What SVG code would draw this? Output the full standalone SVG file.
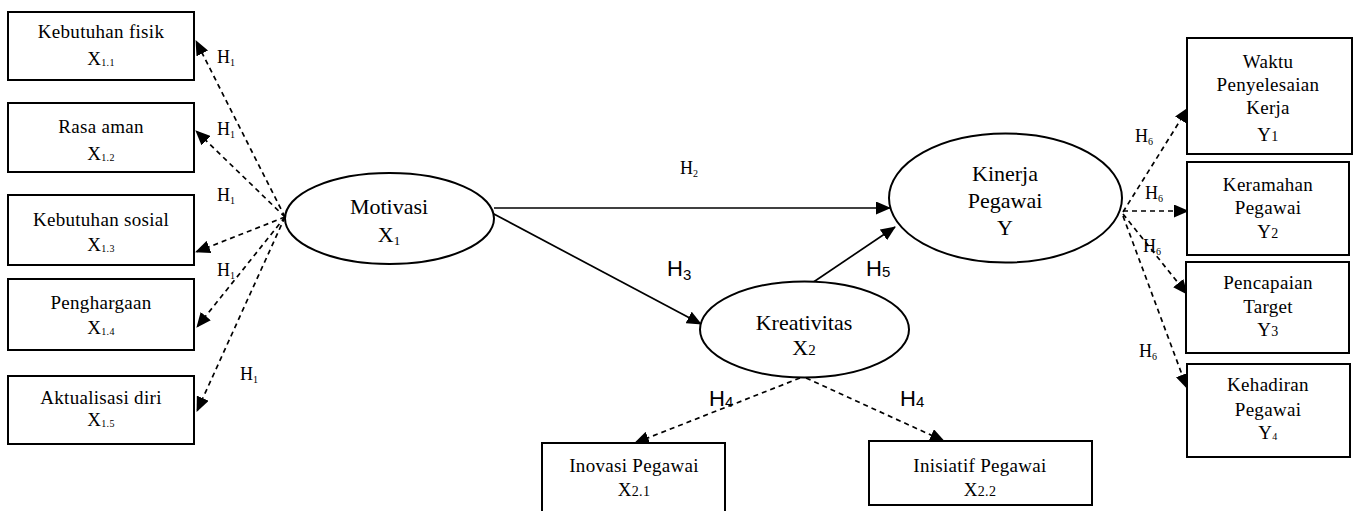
<svg xmlns="http://www.w3.org/2000/svg" width="1359" height="511" viewBox="0 0 1359 511">
  <style>
    .box { fill: #fff; stroke: #000; stroke-width: 2; }
    .ell { fill: #fff; stroke: #000; stroke-width: 2; }
    .t { font-family: "Liberation Serif", "Times New Roman", serif; fill: #000; text-anchor: middle; }
    .bt { font-size: 19px; letter-spacing: 0.3px; }
    .et { font-size: 22px; }
    .sub { font-size: 10px; }
    .h { font-family: "Liberation Serif", serif; font-size: 18px; fill: #000; }
    .hs { font-family: "Liberation Sans", Arial, sans-serif; font-size: 22px; fill: #000; }
    .dash { fill: none; stroke: #000; stroke-width: 1.7; stroke-dasharray: 5 4; marker-end: url(#ah); }
    .solid { fill: none; stroke: #000; stroke-width: 1.7; marker-end: url(#ah); }
  </style>
  <defs>
    <marker id="ah" markerUnits="userSpaceOnUse" markerWidth="15" markerHeight="13" refX="14" refY="6.5" orient="auto">
      <path d="M0,0 L15,6.5 L0,13 Z" fill="#000"/>
    </marker>
  </defs>
  <rect width="1359" height="511" fill="#fff"/>

  <!-- connectors -->
  <g id="connectors">
    <!-- Motivasi to its indicators -->
    <line class="dash" x1="285" y1="217" x2="196" y2="41"/>
    <line class="dash" x1="285" y1="217" x2="196" y2="131"/>
    <line class="dash" x1="285" y1="217" x2="196" y2="252"/>
    <line class="dash" x1="285" y1="217" x2="197" y2="327"/>
    <line class="dash" x1="285" y1="217" x2="197" y2="411"/>
    <!-- structural paths -->
    <line class="solid" x1="494" y1="208" x2="890" y2="208"/>
    <line class="solid" x1="492" y1="213" x2="701" y2="324"/>
    <line class="solid" x1="812" y1="283" x2="895" y2="227"/>
    <!-- Kreativitas to its indicators -->
    <line class="dash" x1="800" y1="378" x2="635" y2="443"/>
    <line class="dash" x1="806" y1="378" x2="944" y2="441"/>
    <!-- Kinerja to its indicators -->
    <line class="dash" x1="1123" y1="212" x2="1188" y2="108"/>
    <line class="dash" x1="1123" y1="211" x2="1188" y2="211"/>
    <line class="dash" x1="1123" y1="214" x2="1187" y2="294"/>
    <line class="dash" x1="1123" y1="216" x2="1187" y2="388"/>
  </g>

  <!-- path labels -->
  <g id="labels">
    <text class="h" x="217" y="63">H<tspan class="sub" dy="3">1</tspan></text>
    <text class="h" x="217" y="135">H<tspan class="sub" dy="3">1</tspan></text>
    <text class="h" x="217" y="201">H<tspan class="sub" dy="3">1</tspan></text>
    <text class="h" x="217" y="276">H<tspan class="sub" dy="3">1</tspan></text>
    <text class="h" x="240" y="380">H<tspan class="sub" dy="3">1</tspan></text>
    <text class="h" x="680" y="174" font-size="15">H<tspan class="sub" dy="3">2</tspan></text>
    <text class="hs" x="667" y="276">H<tspan font-size="15" dy="4">3</tspan></text>
    <text class="hs" x="866" y="276">H<tspan font-size="15" dy="1">5</tspan></text>
    <text class="hs" x="709" y="406">H<tspan font-size="15" dy="1">4</tspan></text>
    <text class="hs" x="900" y="406">H<tspan font-size="15" dy="1">4</tspan></text>
    <text class="h" x="1135" y="142">H<tspan class="sub" dy="3">6</tspan></text>
    <text class="h" x="1145" y="199">H<tspan class="sub" dy="3">6</tspan></text>
    <text class="h" x="1143" y="252">H<tspan class="sub" dy="3">6</tspan></text>
    <text class="h" x="1139" y="357">H<tspan class="sub" dy="3">6</tspan></text>
  </g>

  <!-- Motivasi indicators -->
  <g id="x11">
    <rect class="box" x="8" y="12" width="186" height="68"/>
    <text class="t bt" x="101" y="38">Kebutuhan fisik</text>
    <text class="t bt" x="101" y="65">X<tspan class="sub" dy="1">1.1</tspan></text>
  </g>
  <g id="x12">
    <rect class="box" x="8" y="103" width="186" height="69"/>
    <text class="t bt" x="101" y="133">Rasa aman</text>
    <text class="t bt" x="101" y="160">X<tspan class="sub" dy="1">1.2</tspan></text>
  </g>
  <g id="x13">
    <rect class="box" x="8" y="195" width="186" height="70"/>
    <text class="t bt" x="101" y="226">Kebutuhan sosial</text>
    <text class="t bt" x="101" y="251">X<tspan class="sub" dy="1">1.3</tspan></text>
  </g>
  <g id="x14">
    <rect class="box" x="8" y="279" width="186" height="71"/>
    <text class="t bt" x="101" y="309">Penghargaan</text>
    <text class="t bt" x="101" y="334">X<tspan class="sub" dy="1">1.4</tspan></text>
  </g>
  <g id="x15">
    <rect class="box" x="8" y="376" width="186" height="68"/>
    <text class="t bt" x="101" y="404">Aktualisasi diri</text>
    <text class="t bt" x="101" y="426">X<tspan class="sub" dy="1">1.5</tspan></text>
  </g>

  <!-- latent variables -->
  <g id="motivasi">
    <ellipse class="ell" cx="389.5" cy="218.5" rx="104.5" ry="45.5"/>
    <text class="t et" x="389" y="214">Motivasi</text>
    <text class="t et" x="389" y="242">X<tspan font-size="13" dy="3">1</tspan></text>
  </g>
  <g id="kreativitas">
    <ellipse class="ell" cx="804.5" cy="329.5" rx="104.5" ry="48"/>
    <text class="t et" x="804" y="330">Kreativitas</text>
    <text class="t et" x="804" y="355">X<tspan font-size="15">2</tspan></text>
  </g>
  <g id="kinerja">
    <ellipse class="ell" cx="1005.5" cy="198" rx="116.5" ry="64.5"/>
    <text class="t et" x="1005" y="181">Kinerja</text>
    <text class="t et" x="1005" y="208">Pegawai</text>
    <text class="t et" x="1005" y="235">Y</text>
  </g>

  <!-- Kreativitas indicators -->
  <g id="x21">
    <rect class="box" x="542" y="443" width="183" height="70"/>
    <text class="t bt" x="634" y="472">Inovasi Pegawai</text>
    <text class="t bt" x="634" y="496">X<tspan font-size="14">2.1</tspan></text>
  </g>
  <g id="x22">
    <rect class="box" x="869" y="441" width="223" height="64"/>
    <text class="t bt" x="980" y="472">Inisiatif Pegawai</text>
    <text class="t bt" x="980" y="496">X<tspan font-size="14">2.2</tspan></text>
  </g>

  <!-- Kinerja indicators -->
  <g id="y1">
    <rect class="box" x="1187" y="38" width="165" height="116"/>
    <text class="t bt" x="1268" y="68">Waktu</text>
    <text class="t bt" x="1268" y="91">Penyelesaian</text>
    <text class="t bt" x="1268" y="114">Kerja</text>
    <text class="t bt" x="1268" y="141">Y<tspan font-size="14">1</tspan></text>
  </g>
  <g id="y2">
    <rect class="box" x="1187" y="162" width="162" height="93"/>
    <text class="t bt" x="1268" y="191">Keramahan</text>
    <text class="t bt" x="1268" y="214">Pegawai</text>
    <text class="t bt" x="1268" y="238">Y<tspan font-size="14">2</tspan></text>
  </g>
  <g id="y3">
    <rect class="box" x="1186" y="262" width="163" height="91"/>
    <text class="t bt" x="1268" y="289">Pencapaian</text>
    <text class="t bt" x="1268" y="313">Target</text>
    <text class="t bt" x="1268" y="336">Y<tspan font-size="14">3</tspan></text>
  </g>
  <g id="y4">
    <rect class="box" x="1187" y="364" width="163" height="93"/>
    <text class="t bt" x="1268" y="391">Kehadiran</text>
    <text class="t bt" x="1268" y="416">Pegawai</text>
    <text class="t bt" x="1268" y="439">Y<tspan class="sub" dy="1">4</tspan></text>
  </g>
</svg>
